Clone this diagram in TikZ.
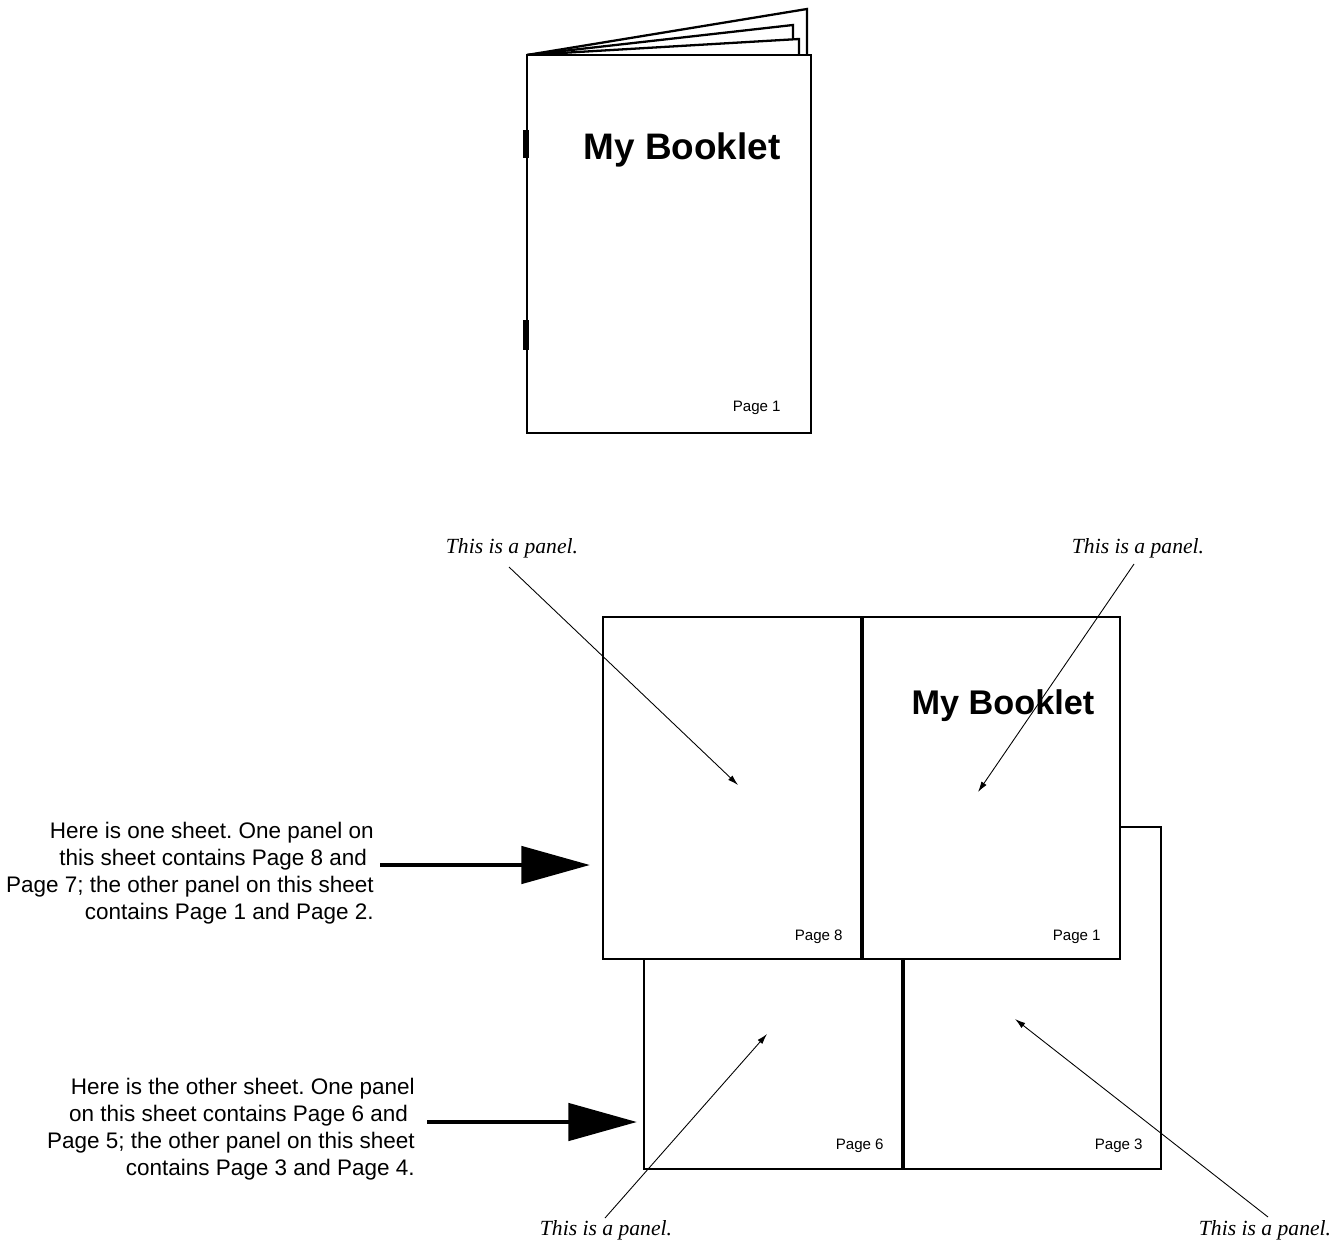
\documentclass[tikz,border=0pt]{standalone}
\usepackage{fontspec}
\setmainfont{Liberation Sans}
\newfontfamily\panelfont{Liberation Serif}
\usetikzlibrary{arrows.meta}
\frenchspacing

\tikzset{
  page/.style={draw, line width=1.4pt, fill=white},
  pagenum/.style={font=\fontsize{8.6}{10}\selectfont, anchor=base east, inner sep=0},
  booktitle/.style={font=\fontsize{21}{25}\selectfont\bfseries, anchor=base, inner sep=0},
  panellabel/.style={font=\panelfont\itshape\fontsize{12.3}{14}\selectfont},
  note/.style={font=\fontsize{12.8}{15.3}\selectfont, align=right, anchor=north east, inner sep=0},
  thinarrow/.style={-{Latex[length=6pt,width=3.5pt]}, line width=0.5pt},
  bigarrow/.style={-{Triangle[length=39pt,width=21pt]}, line width=2.8pt}
}

\begin{document}
\begin{tikzpicture}[x=0.02cm, y=-0.02cm]
\useasboundingbox (0,0) rectangle (1344,1243);

% folded booklet
\draw[line width=1.3pt] (527,55) -- (807,9) -- (807,55);
\draw[line width=1.3pt] (527,55) -- (793,25) -- (793,40);
\draw[line width=1.3pt] (527,55) -- (799,39) -- (799,55);
\draw[page, line width=1.3pt] (527,55) rectangle (811,433);
\draw[line width=3pt] (526,130) -- (526,158);
\draw[line width=3pt] (526,320) -- (526,350);

\node[booktitle] (covertitle) at (682,160) {My Booklet};
\node[pagenum] (coverpage) at (781,411) {Page 1};

% the two sheets
\draw[page] (644,827) rectangle (1161,1169);
\draw[line width=1.8pt] (903,959) -- (903,1169);
\draw[page] (603,617) rectangle (1120,959);
\draw[line width=1.8pt] (862,617) -- (862,959);

\node[booktitle, font=\fontsize{19.5}{23}\selectfont\bfseries] (sheettitle) at (1003,714) {My Booklet};
\node[pagenum] (p8) at (843,940) {Page 8};
\node[pagenum] (p1) at (1101,940) {Page 1};
\node[pagenum] (p6) at (884,1149) {Page 6};
\node[pagenum] (p3) at (1143,1149) {Page 3};

% panel labels
\node[panellabel] (panela) at (512,548) {This is a panel.};
\node[panellabel] (panelb) at (1138,548) {This is a panel.};
\node[panellabel] (panelc) at (606,1230) {This is a panel.};
\node[panellabel] (paneld) at (1265,1230) {This is a panel.};

\coordinate (tipa) at (738,785);
\coordinate (tipb) at (978,792);
\coordinate (tipc) at (767,1034);
\coordinate (tipd) at (1015,1019);

\draw[thinarrow] ([shift={(-3,3)}]panela.south) -- (tipa);
\draw[thinarrow] ([shift={(-4,0)}]panelb.south) -- (tipb);
\draw[thinarrow] ([shift={(-1,4)}]panelc.north) -- (tipc);
\draw[thinarrow] ([shift={(3,3)}]paneld.north) -- (tipd);

% sheet notes
\node[note] (onesheet) at (374,822) {Here is one sheet. One panel on\\
  this sheet contains Page 8 and\kern0.3em\\
  Page 7; the other panel on this sheet\\
  contains Page 1 and Page 2.};
\node[note] (othersheet) at (415,1078) {Here is the other sheet. One panel\\
  on this sheet contains Page 6 and\kern0.3em\\
  Page 5; the other panel on this sheet\\
  contains Page 3 and Page 4.};

\coordinate (onetip) at (590,865);
\coordinate (othertip) at (637,1122);

\draw[bigarrow] (onetip -| onesheet.east) ++(6,0) -- (onetip);
\draw[bigarrow] (othertip -| othersheet.east) ++(12,0) -- (othertip);
\end{tikzpicture}
\end{document}
